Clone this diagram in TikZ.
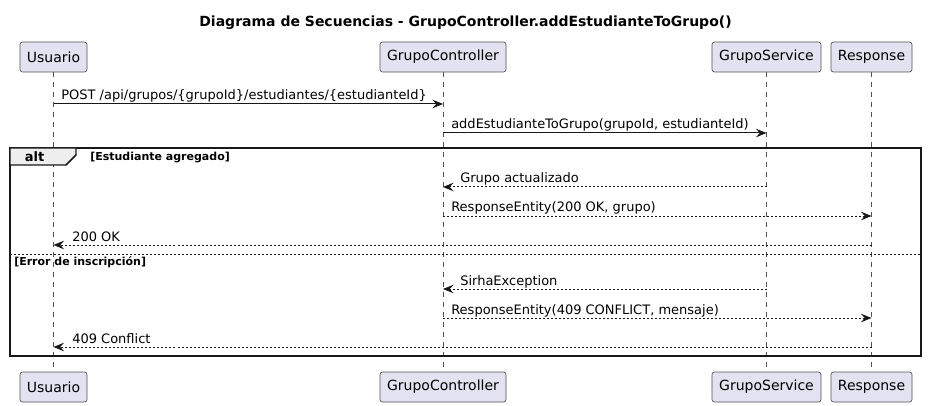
\documentclass[tikz,border=0pt]{standalone}
\usepackage{fontspec}
\setmainfont{DejaVu Sans}
\usetikzlibrary{arrows.meta}
\definecolor{pfill}{HTML}{E2E2F0}
\definecolor{ink}{HTML}{181818}
\definecolor{tabfill}{HTML}{EEEEEE}
\begin{document}
\begin{tikzpicture}[x=0.75pt,y=-0.75pt,
  part/.style={draw=ink!75, fill=pfill, rounded corners=1.9pt, line width=0.5pt,
    minimum height=22.5pt, inner sep=0pt, font=\fontsize{10.5}{12}\selectfont, text=black},
  life/.style={draw=ink!75, line width=0.45pt, dash pattern=on 3.75pt off 3.75pt},
  msg/.style={draw=ink, line width=0.75pt, -{Stealth[length=8pt,width=6.5pt,inset=3pt]}},
  ret/.style={msg, dash pattern=on 1.5pt off 1.5pt},
  lbl/.style={font=\fontsize{9.75}{11}\selectfont, anchor=base west, inner sep=0pt, text=black},
  guard/.style={font=\bfseries\fontsize{8.25}{10}\selectfont, anchor=base west, inner sep=0pt, text=black},
]
\useasboundingbox (0,0) rectangle (928,406);

% title
\node[font=\bfseries\fontsize{10.5}{12}\selectfont, anchor=base, inner sep=0pt] (title) at (465.5,27)
  {Diagrama de Secuencias - GrupoController.addEstudianteToGrupo()};

% participants top
\node[part, minimum width=50.25pt] (uT) at (53.5,57) {Usuario};
\node[part, minimum width=94.5pt] (gcT) at (443,57) {GrupoController};
\node[part, minimum width=81.75pt] (gsT) at (766.5,57) {GrupoService};
\node[part, minimum width=60.75pt] (rT) at (871.5,57) {Response};
% participants bottom
\node[part, minimum width=50.25pt] (uB) at (53.5,387) {Usuario};
\node[part, minimum width=94.5pt] (gcB) at (443,387) {GrupoController};
\node[part, minimum width=81.75pt] (gsB) at (766.5,387) {GrupoService};
\node[part, minimum width=60.75pt] (rB) at (871.5,387) {Response};

% lifelines
\draw[life] (uT.south) -- (uB.north);
\draw[life] (gcT.south) -- (gcB.north);
\draw[life] (gsT.south) -- (gsB.north);
\draw[life] (rT.south) -- (rB.north);

% alt frame
\draw[draw=ink, line width=1.1pt] (10,148) rectangle (921,356);
\draw[draw=ink, fill=tabfill, line width=1.1pt] (10,148) -- (76,148) -- (76,155) -- (66,165) -- (10,165) -- cycle;
\node[font=\bfseries\fontsize{9.75}{11}\selectfont, anchor=base, inner sep=0pt] (altlbl) at (34.5,161.5) {alt};
\node[guard] (g1) at (90,160.5) {[Estudiante agregado]};
\draw[draw=ink, line width=0.75pt, dash pattern=on 1.5pt off 1.5pt] (10,254) -- (921,254);
\node[guard] (g2) at (14,265) {[Error de inscripción]};

% messages
\draw[msg] (uT |- 0,104) -- (gcT |- 0,104);
\node[lbl] (l1) at (61,100) {POST /api/grupos/\{grupoId\}/estudiantes/\{estudianteId\}};
\draw[msg] (gcT |- 0,133) -- (gsT |- 0,133);
\node[lbl] (l2) at (451,129) {addEstudianteToGrupo(grupoId, estudianteId)};
\draw[ret] (gsT |- 0,187) -- (gcT |- 0,187);
\node[lbl] (l3) at (460,183) {Grupo actualizado};
\draw[ret] (gcT |- 0,216) -- (rT |- 0,216);
\node[lbl] (l4) at (451,212) {ResponseEntity(200 OK, grupo)};
\draw[ret] (rT |- 0,245) -- (uT |- 0,245);
\node[lbl] (l5) at (72,241) {200 OK};
\draw[ret] (gsT |- 0,289) -- (gcT |- 0,289);
\node[lbl] (l6) at (460,285) {SirhaException};
\draw[ret] (gcT |- 0,318) -- (rT |- 0,318);
\node[lbl] (l7) at (451,314) {ResponseEntity(409 CONFLICT, mensaje)};
\draw[ret] (rT |- 0,347) -- (uT |- 0,347);
\node[lbl] (l8) at (72,343) {409 Conflict};
\end{tikzpicture}
\end{document}
